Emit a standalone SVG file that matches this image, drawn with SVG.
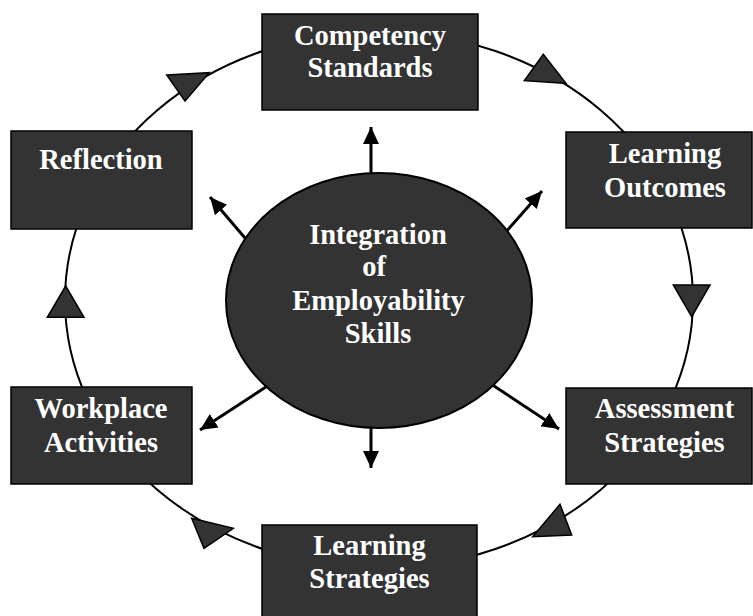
<svg xmlns="http://www.w3.org/2000/svg" width="753" height="616" viewBox="0 0 753 616">
<style>
.box{fill:#333333;stroke:#000000;stroke-width:1.5}
.lbl{font-family:"Liberation Serif","Times New Roman",serif;font-weight:bold;font-size:28.5px;fill:#ffffff;text-anchor:middle}
.cycle{fill:none;stroke:#000000;stroke-width:2}
.tri{fill:#333333;stroke:#000000;stroke-width:1.5;stroke-linejoin:miter}
.arr{stroke:#000000;stroke-width:3;fill:none;marker-end:url(#ah)}
</style>
<defs>
<marker id="ah" markerUnits="userSpaceOnUse" markerWidth="18" markerHeight="18" viewBox="0 0 18 18" refX="17" refY="9" orient="auto">
<path d="M0,1 L17,9 L0,17 Z" fill="#000000"/>
</marker>
</defs>
<rect width="753" height="616" fill="#ffffff"/>
<g id="connectors">
<ellipse class="cycle" cx="379" cy="300" rx="314" ry="268"/>
<line class="arr" x1="371" y1="175" x2="371" y2="127"/>
<line class="arr" x1="371" y1="428" x2="371" y2="468"/>
<line class="arr" x1="245" y1="238" x2="210" y2="197"/>
<line class="arr" x1="505" y1="233" x2="542" y2="191"/>
<line class="arr" x1="272" y1="383" x2="200" y2="430"/>
<line class="arr" x1="488" y1="382" x2="559" y2="429"/>
</g>
<g id="cycle-arrowheads">
<polygon class="tri" points="166.7,75 209.3,72.7 185,101"/>
<polygon class="tri" points="524.3,80.7 543.3,54.3 566,83.3"/>
<polygon class="tri" points="673.3,285 710,285 691.7,316.7"/>
<polygon class="tri" points="560,504.3 571.7,535 532.7,536.7"/>
<polygon class="tri" points="191.7,518.3 233.3,528.3 204,548.3"/>
<polygon class="tri" points="65.7,286 47.3,317.3 84,317.3"/>
</g>
<g id="center">
<ellipse cx="379" cy="300.5" rx="153" ry="127.5" fill="#333333" stroke="#000000" stroke-width="2"/>
<text class="lbl" x="378" y="244">Integration</text>
<text class="lbl" x="374" y="276">of</text>
<text class="lbl" x="378.5" y="310">Employability</text>
<text class="lbl" x="378" y="343">Skills</text>
</g>
<g id="competency">
<rect class="box" x="262" y="14" width="216" height="96"/>
<text class="lbl" x="370" y="45">Competency</text>
<text class="lbl" x="370" y="77">Standards</text>
</g>
<g id="outcomes">
<rect class="box" x="566" y="132" width="186" height="96"/>
<text class="lbl" x="665" y="163">Learning</text>
<text class="lbl" x="665" y="197">Outcomes</text>
</g>
<g id="assessment">
<rect class="box" x="566" y="388" width="186" height="96"/>
<text class="lbl" x="664.5" y="418">Assessment</text>
<text class="lbl" x="664.5" y="452">Strategies</text>
</g>
<g id="learning-strategies">
<rect class="box" x="262" y="525" width="215" height="96"/>
<text class="lbl" x="369.5" y="555">Learning</text>
<text class="lbl" x="369.5" y="588">Strategies</text>
</g>
<g id="workplace">
<rect class="box" x="11" y="387" width="181" height="97"/>
<text class="lbl" x="101" y="418">Workplace</text>
<text class="lbl" x="101" y="452">Activities</text>
</g>
<g id="reflection">
<rect class="box" x="11" y="131" width="181" height="98"/>
<text class="lbl" x="101" y="169">Reflection</text>
</g>
</svg>
